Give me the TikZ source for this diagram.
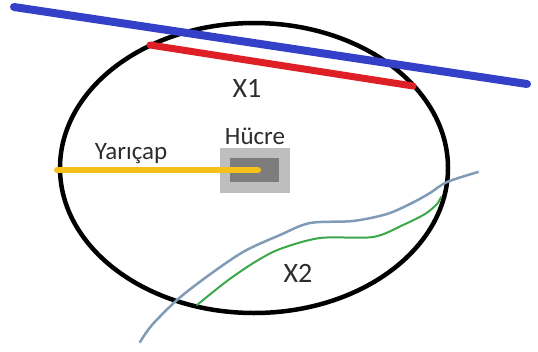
\documentclass[tikz,border=0pt]{standalone}
\usepackage{fontspec}
\setmainfont{Carlito}
\definecolor{bblue}{RGB}{52,64,200}
\definecolor{rred}{RGB}{222,32,38}
\definecolor{yyel}{RGB}{245,192,24}
\definecolor{ggreen}{RGB}{58,168,74}
\definecolor{bgrey}{RGB}{128,155,182}
\definecolor{lgrey}{RGB}{190,190,190}
\definecolor{dgrey}{RGB}{125,125,125}
\definecolor{txt}{RGB}{45,45,45}
\tikzset{
  lbl/.style={font=\fontsize{25}{27}\selectfont, text=txt, inner sep=0pt, anchor=base},
  biglbl/.style={lbl, font=\fontsize{28}{30}\selectfont},
  thickline/.style={line cap=round, line width=#1},
}
\begin{document}
\begin{tikzpicture}[x=1pt,y=-1pt]
\useasboundingbox (0,0) rectangle (538,351);
% cell
\node[fill=lgrey, minimum width=70pt, minimum height=45pt, inner sep=0pt] (cell) at (255,170) {};
\node[fill=dgrey, minimum width=49pt, minimum height=24pt, inner sep=0pt] (core) at (254.5,170) {};
% ellipse
\draw[line width=4.5pt] (254,168) ellipse [x radius=194, y radius=145];
% radius
\coordinate (ys) at (57,170);
\coordinate (ye) at (258,170);
\draw[thickline=6pt, yyel] (ys) -- (ye);
% red chord
\coordinate (rs) at (150,45);
\coordinate (re) at (413,86);
\draw[thickline=7pt, rred] (rs) -- (re);
% blue line
\coordinate (bs) at (14,7);
\coordinate (be) at (527,84);
\draw[thickline=8pt, bblue] (bs) -- (be);
% blue-grey curve
\draw[bgrey, line width=2.5pt, line cap=round] plot[smooth, tension=0.5] coordinates {
 (140,342) (152,325) (177,300) (205,278) (243,252) (280,235) (310,223) (353,221) (387,214) (412,203) (430,193) (447,182) (478,172)};
% green curve
\draw[ggreen, line width=2pt, line cap=round] plot[smooth, tension=0.5] coordinates {
 (197,305) (227,281) (255,262) (280,249) (320,238) (373,237) (403,225) (425,214) (437,204) (441,197)};
% labels
\node[biglbl] (x1) at (247,97) {X1};
\node[biglbl] (x2) at (298,282) {X2};
\node[lbl] (rad) at (131,159) {Yarıçap};
\node[lbl] (hc) at (255,144) {Hücre};
\end{tikzpicture}
\end{document}
